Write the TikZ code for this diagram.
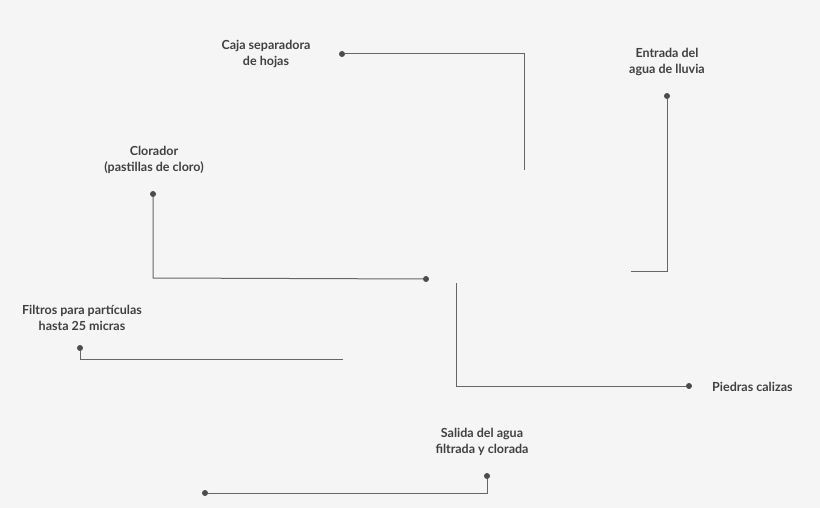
\documentclass[tikz,border=0pt]{standalone}
\usepackage{fontspec}
\setmainfont{Lato}
\begin{document}
\begin{tikzpicture}[x=1pt,y=-1pt,
  ln/.style={draw=black!60,line width=1pt},
  dot/.style={circle,fill=black!70,inner sep=0pt,minimum size=6pt},
  lbl/.style={align=center,font=\bfseries\fontsize{12.5}{16}\selectfont,text=black!75,inner sep=0pt}]
\fill[black!4] (0,0) rectangle (820,508);
\useasboundingbox (0,0) rectangle (820,508);
% Caja
\node[dot] (d1) at (342,54) {};
\coordinate (e1) at (524,170);
\draw[ln] (d1) -- (524,54) -- (e1);
\node[lbl] (t1) at (266,54) {Caja separadora\\de hojas};
% Entrada
\node[dot] (d2) at (667,96) {};
\coordinate (e2) at (631,271);
\draw[ln] (d2) -- (667,271) -- (e2);
\node[lbl] (t2) at (667,62) {Entrada del\\agua de lluvia};
% Clorador
\node[dot] (d3) at (153,194) {};
\node[dot] (d3b) at (426,279) {};
\draw[ln] (d3) -- (153,278) -- (d3b);
\node[lbl] (t3) at (154,160) {Clorador\\(pastillas de cloro)};
% Filtros
\node[dot] (d4) at (80,348) {};
\coordinate (e4) at (343,359);
\draw[ln] (d4) -- (80,359) -- (e4);
\node[lbl] (t4) at (82,318) {Filtros para partículas\\hasta 25 micras};
% Piedras
\node[dot] (d5) at (689,386) {};
\coordinate (e5) at (456,283);
\draw[ln] (e5) -- (456,386) -- (d5);
\node[lbl,anchor=west] (t5) at (712,387) {Piedras calizas};
% Salida
\node[dot] (d6) at (487,476) {};
\node[dot] (d6b) at (205,493) {};
\draw[ln] (d6) -- (487,493) -- (d6b);
\node[lbl] (t6) at (482,442) {Salida del agua\\filtrada y clorada};
\end{tikzpicture}
\end{document}
